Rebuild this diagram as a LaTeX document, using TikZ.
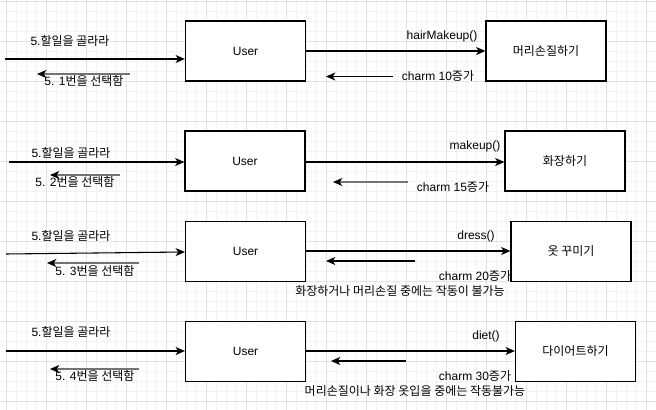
\documentclass[tikz,border=0pt]{standalone}
\usepackage{fontspec}
\setmainfont{Liberation Sans}
\newfontfamily\krfont{Noto Sans CJK KR}
\newcommand\kr[1]{{\krfont #1}}
\usetikzlibrary{arrows.meta}
\begin{document}
\begin{tikzpicture}[x=0.75pt,y=-0.75pt,
  every node/.style={font=\fontsize{9}{11}\selectfont, inner sep=0pt},
  box/.style={draw=black, line width=0.9pt, minimum width=90pt, minimum height=45pt, fill=white},
  lbl/.style={text=black},
  arr/.style={line width=0.8pt, -{Stealth[length=7pt,width=6pt,inset=2pt,color=black]}},
  garr/.style={arr, draw=black!55},
  minorgrid/.style={draw=black!5, line width=0.5pt},
  majorgrid/.style={draw=black!11, line width=0.6pt}]
\useasboundingbox (0,0) rectangle (656,410);
\fill[white] (0,0) rectangle (656,410);
\foreach \x in {6,16,...,656} \draw[minorgrid] (\x,0) -- (\x,410);
\foreach \y in {1,11,...,410} \draw[minorgrid] (0,\y) -- (656,\y);
\foreach \x in {6,46,...,646} \draw[majorgrid] (\x,0) -- (\x,410);
\foreach \y in {1,41,...,401} \draw[majorgrid] (0,\y) -- (656,\y);

% Row 1
\node[box] (u1) at (245.5,51) {User};
\node[box] (r1) at (546,51) {\kr{머리손질하기}};
\coordinate (i1) at (5,59);
\draw[arr] (i1) -- (i1 -| u1.west);
\node[lbl] (t1a) at (70,41) {5.\kr{할일을 골라라}};
\coordinate (b1s) at (130,74); \coordinate (b1e) at (37,74);
\draw[garr] (b1s) -- (b1e);
\node[lbl] (t1b) at (84,81) {5. 1\kr{번을 선택함}};
\draw[arr] (u1) -- (r1);
\node[lbl] (m1) at (442,36) {hairMakeup()};
\coordinate (c1s) at (393,76.5); \coordinate (c1e) at (326,76.5);
\draw[arr] (c1s) -- (c1e);
\node[lbl] (k1) at (438,76) {charm 10\kr{증가}};

% Row 2
\node[box] (u2) at (245,161) {User};
\node[box] (r2) at (565,161) {\kr{화장하기}};
\coordinate (i2) at (9,162);
\draw[arr] (i2) -- (i2 -| u2.west);
\node[lbl] (t2a) at (71,153) {5.\kr{할일을 골라라}};
\coordinate (b2s) at (120,175); \coordinate (b2e) at (50,175);
\draw[garr] (b2s) -- (b2e);
\node[lbl] (t2b) at (75,182) {5. 2\kr{번을 선택함}};
\draw[arr] (u2.east |- 0,162) -- (r2.west |- 0,162);
\node[lbl] (m2) at (475,146) {makeup()};
\coordinate (c2s) at (408,182); \coordinate (c2e) at (333,182);
\draw[garr] (c2s) -- (c2e);
\node[lbl] (k2) at (453,187) {charm 15\kr{증가}};

% Row 3
\node[box] (u3) at (245.5,251.5) {User};
\node[box] (r3) at (571,251.5) {\kr{옷 꾸미기}};
\coordinate (i3) at (6,254);
\draw[arr] (i3) -- (u3.west |- 0,252);
\node[lbl] (t3a) at (71,236) {5.\kr{할일을 골라라}};
\coordinate (b3s) at (139,263); \coordinate (b3e) at (47,263);
\draw[garr] (b3s) -- (b3e);
\node[lbl] (t3b) at (95,271) {5. 3\kr{번을 선택함}};
\draw[arr] (u3.east |- 0,251) -- (r3.west |- 0,251);
\node[lbl] (m3) at (476,236) {dress()};
\coordinate (c3s) at (415,261); \coordinate (c3e) at (326,261);
\draw[arr] (c3s) -- (c3e);
\node[lbl] (k3) at (475,276) {charm 20\kr{증가}};
\node[lbl] (n3) at (400,291) {\kr{화장하거나 머리손질 중에는 작동이 불가능}};

% Row 4
\node[box] (u4) at (245.5,351.5) {User};
\node[box] (r4) at (575.5,351.5) {\kr{다이어트하기}};
\coordinate (i4) at (6,351);
\draw[arr] (i4) -- (i4 -| u4.west);
\node[lbl] (t4a) at (71,332) {5.\kr{할일을 골라라}};
\coordinate (b4s) at (139,369); \coordinate (b4e) at (50,369);
\draw[garr] (b4s) -- (b4e);
\node[lbl] (t4b) at (95,376) {5. 4\kr{번을 선택함}};
\draw[arr] (u4.east |- 0,351) -- (r4.west |- 0,351);
\node[lbl] (m4) at (486,336) {diet()};
\coordinate (c4s) at (406,361); \coordinate (c4e) at (331,361);
\draw[arr] (c4s) -- (c4e);
\node[lbl] (k4) at (475,376) {charm 30\kr{증가}};
\node[lbl] (n4) at (415,391) {\kr{머리손질이나 화장 옷입을 중에는 작동불가능}};
\end{tikzpicture}
\end{document}
